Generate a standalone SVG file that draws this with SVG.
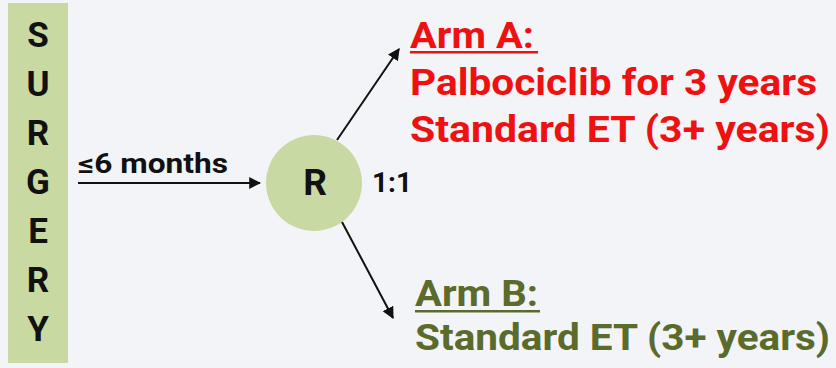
<svg xmlns="http://www.w3.org/2000/svg" width="836" height="368" viewBox="0 0 836 368">
<defs>
<marker id="ah" viewBox="0 0 10 10" refX="9" refY="5" markerWidth="6" markerHeight="6" markerUnits="strokeWidth" orient="auto">
<path d="M0,0 L10,5 L0,10 z" fill="#111"/>
</marker>
</defs>
<style>
text{font-family:Roboto,"Liberation Sans",sans-serif;font-weight:bold}
.s{font-size:35px;fill:#111;text-anchor:middle}
.r{font-size:37px;fill:#111;text-anchor:middle}
.red{font-size:36px;fill:#ee1111}
.grn{font-size:36px;fill:#5a6b2c}
.lbl{font-size:27px;fill:#111}
.conn{stroke:#111;stroke-width:2;fill:none;marker-end:url(#ah)}
</style>
<rect width="836" height="368" fill="#f3f4f8"/>
<g id="surgery">
<rect x="8" y="3" width="60" height="360" fill="#c8d9a2"/>
<text class="s" x="38" y="47">S</text>
<text class="s" x="38" y="96">U</text>
<text class="s" x="38" y="145">R</text>
<text class="s" x="38" y="194">G</text>
<text class="s" x="38" y="243">E</text>
<text class="s" x="38" y="292">R</text>
<text class="s" x="38" y="341">Y</text>
</g>
<g id="randomize">
<circle cx="314" cy="183" r="48" fill="#c9d9a4"/>
<text class="r" x="315" y="195">R</text>
<text class="lbl" x="372" y="192" font-size="28" textLength="40" lengthAdjust="spacingAndGlyphs">1:1</text>
</g>
<g id="armA">
<text class="red" x="410" y="48" textLength="124" lengthAdjust="spacingAndGlyphs">Arm A:</text>
<rect x="410" y="51" width="128" height="2.5" fill="#ee1111"/>
<text class="red" x="410" y="95" textLength="407" lengthAdjust="spacingAndGlyphs">Palbociclib for 3 years</text>
<text class="red" x="410" y="142" textLength="420" lengthAdjust="spacingAndGlyphs">Standard ET (3+ years)</text>
</g>
<g id="armB">
<text class="grn" x="415" y="306" textLength="123" lengthAdjust="spacingAndGlyphs">Arm B:</text>
<rect x="415" y="310" width="125" height="2.5" fill="#5a6b2c"/>
<text class="grn" x="415" y="350" textLength="415" lengthAdjust="spacingAndGlyphs">Standard ET (3+ years)</text>
</g>
<g id="connectors">
<line class="conn" x1="78" y1="183" x2="260" y2="183"/>
<text class="lbl" x="78" y="173" textLength="150" lengthAdjust="spacingAndGlyphs">≤6 months</text>
<line class="conn" x1="337" y1="140" x2="399" y2="49"/>
<line class="conn" x1="342" y1="222" x2="393" y2="318"/>
</g>
</svg>
